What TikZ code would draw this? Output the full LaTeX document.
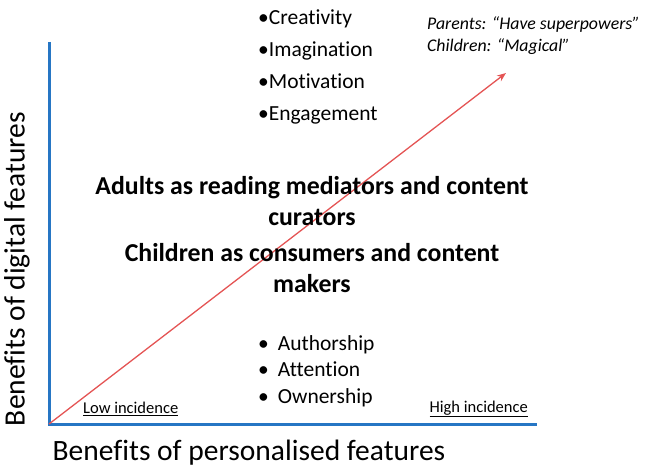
\documentclass[tikz,border=0pt]{standalone}
\usepackage{fontspec}
\setmainfont{Carlito}[Ligatures={NoCommon}]
\usetikzlibrary{arrows.meta, positioning}

\definecolor{axisblue}{RGB}{38,118,196}
\definecolor{trendred}{RGB}{228,84,84}

\begin{document}
\begin{tikzpicture}[
  x=1pt, y=-1pt,
  every node/.style={inner sep=0pt, align=center},
  axis/.style={draw=axisblue, line width=3pt},
  trend/.style={draw=trendred, line width=1.3pt, -{Stealth[length=9pt, width=7pt]}},
  benefit/.style={font=\fontsize{21.5}{32}\selectfont, align=left},
  feature/.style={font=\fontsize{21.5}{26.5}\selectfont, align=left},
  role/.style={font=\fontsize{25.8}{31}\selectfont\bfseries},
  quote/.style={font=\fontsize{17.8}{22}\selectfont\itshape, align=left},
  incidence/.style={font=\fontsize{16.5}{18}\selectfont},
  axislabel/.style={font=\fontsize{29.5}{32}\selectfont}
]
\useasboundingbox (0,0) rectangle (646,468);

% Axes and trend
\coordinate (origin) at (49,424);
\coordinate (ytop) at (49,42);
\coordinate (xend) at (537,424);
\coordinate (peak) at (506,73);
\draw[axis] (ytop) -- (origin) -- (xend);
\draw[trend] (origin) -- (peak);

% Axis labels
\node[axislabel] (xlabel) at (249,453) {Benefits of personalised features};
\node[axislabel, rotate=90] (ylabel) at (17,269) {Benefits of digital features};
\node[incidence, anchor=west] (low) at (83,409) {\underline{Low incidence}};
\node[incidence, anchor=east] (high) at (528,409) {\underline{High incidence}};

% Digital benefits
\node[benefit, anchor=north west] (digital) at (258,10)
  {•Creativity\\•Imagination\\•Motivation\\•Engagement};
\node[quote, anchor=west] (quotes) at (427,36)
  {Parents: “Have superpowers”\\Children: “Magical”};

% Roles
\node[role] (adults) at (312,201) {Adults as reading mediators and content\\curators};
\node[role, below=17pt of adults] (children) {Children as consumers and content\\makers};

% Personalised benefits
\node[feature, anchor=north west] (personal) at (258,335)
  {•\hspace{9pt}Authorship\\•\hspace{9pt}Attention\\•\hspace{9pt}Ownership};

\end{tikzpicture}
\end{document}
